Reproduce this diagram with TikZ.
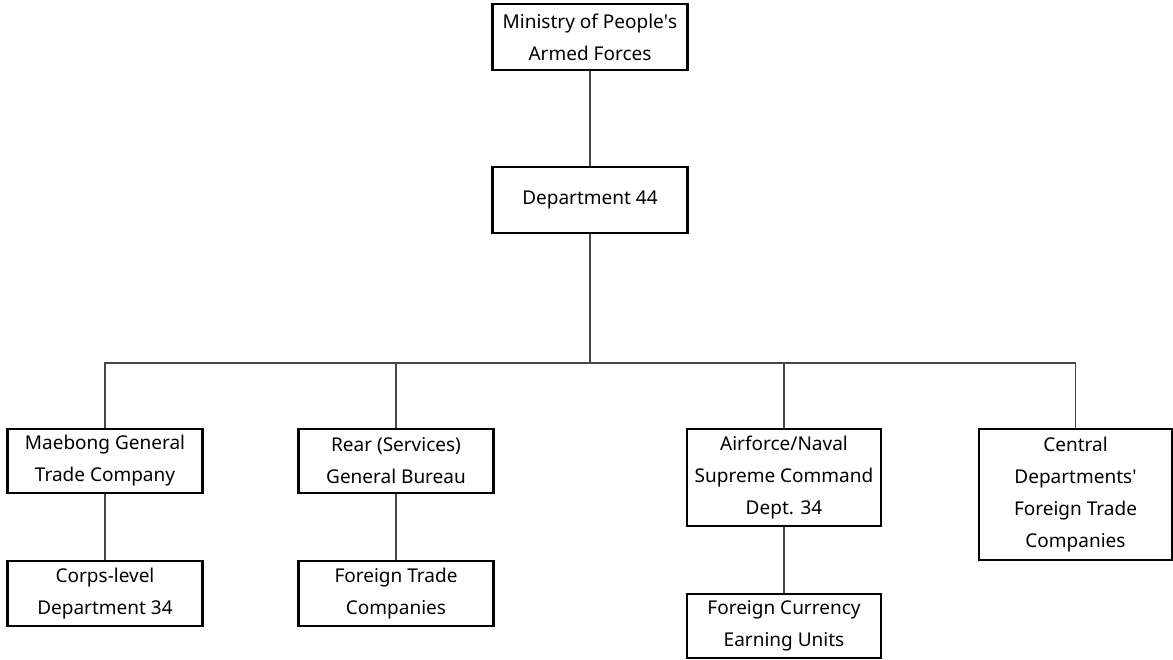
\documentclass[tikz,border=0pt]{standalone}
\usepackage{fontspec}
\setmainfont{Noto Sans}
\usetikzlibrary{positioning}
\definecolor{linegray}{RGB}{70,70,70}
\newcommand{\OrgBox}[5][]{
  \node [draw=black,line width=2.2pt,fill=white,align=center,
  minimum width=#4,minimum height=#5,inner sep=0pt,#1]
  (unit-#2) {#3};
}
\begin{document}
\begin{tikzpicture}[x=1pt,y=-1pt,font=\fontsize{19}{32}\selectfont,
  link/.style={draw=linegray,line width=1.2pt}]
  \useasboundingbox (0,0) rectangle (1173,660);
  \OrgBox[at={(590,37)}]{mpaf}{Ministry of People\textquotesingle s\\Armed Forces}{195pt}{66pt}
  \OrgBox[at={(590,200)}]{d44}{Department 44}{195pt}{66pt}
  \OrgBox[at={(105,461)}]{maebong}{Maebong General\\Trade Company}{195pt}{64pt}
  \OrgBox[at={(396,461)}]{rear}{Rear (Services)\\General Bureau}{195pt}{64pt}
  \OrgBox[at={(784,477.5)}]{air}{Airforce/Naval\\Supreme Command\\Dept. 34}{194pt}{97pt}
  \OrgBox[at={(1075.5,494.5)}]{central}{Central\\Departments\textquotesingle\\Foreign Trade\\Companies}{193pt}{131pt}
  \OrgBox[at={(105,593.5)}]{corps}{Corps-level\\Department 34}{195pt}{65pt}
  \OrgBox[at={(396,593.5)}]{ftc}{Foreign Trade\\Companies}{195pt}{65pt}
  \OrgBox[at={(784,626)}]{fceu}{Foreign Currency\\Earning Units}{194pt}{64pt}
  % connectors
  \coordinate (bus) at (590,363);
  \path[link] (unit-mpaf) -- (unit-d44);
  \path[link] (unit-d44) -- (bus);
  \path[link] (bus) -| (unit-maebong);
  \path[link] (bus) -| (unit-rear);
  \path[link] (bus) -| (unit-air);
  \path[link] (bus) -| (unit-central);
  \path[link] (unit-maebong) -- (unit-corps);
  \path[link] (unit-rear) -- (unit-ftc);
  \path[link] (unit-air) -- (unit-fceu);
\end{tikzpicture}
\end{document}
